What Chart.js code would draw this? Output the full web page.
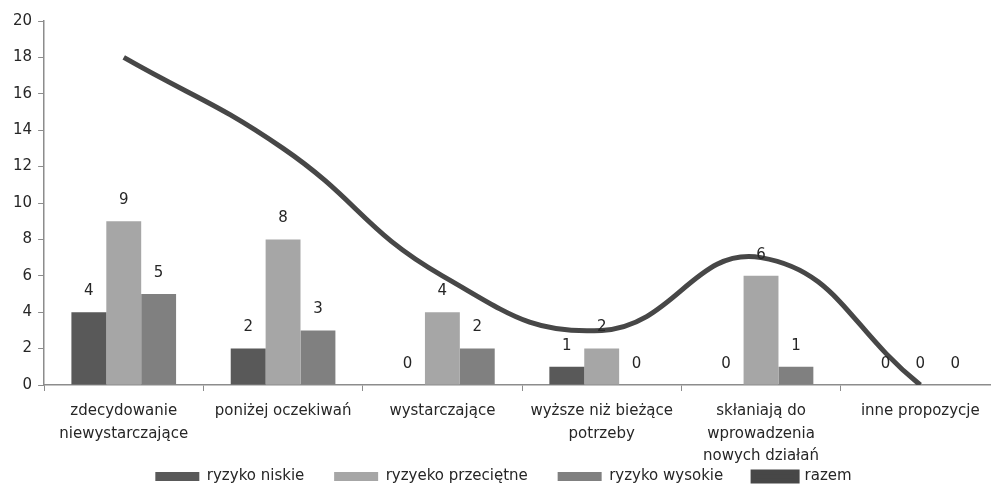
<!DOCTYPE html>
<html>
<head>
<meta charset="utf-8">
<script src="https://cdn.jsdelivr.net/npm/chart.js@4"></script>
<style>
  html, body { margin: 0; padding: 0; background: #fff; overflow: hidden; }
  #wrap { width: 1010px; height: 485px; }
</style>
</head>
<body>
<div id="wrap"><canvas id="riskChart"></canvas></div>
<script>
const categories = [
    ['zdecydowanie', 'niewystarczające'],
    'poniżej oczekiwań',
    'wystarczające',
    ['wyższe niż bieżące', 'potrzeby'],
    ['skłaniają do', 'wprowadzenia', 'nowych działań'],
    'inne propozycje'
];
const ryzykoNiskie = [4, 2, 0, 1, 0, 0];
const ryzykoPrzecietne = [9, 8, 4, 2, 6, 0];
const ryzykoWysokie = [5, 3, 2, 0, 1, 0];
const razem = [18, 13, 6, 3, 7, 0];
const yTicks = [0, 2, 4, 6, 8, 10, 12, 14, 16, 18, 20];

const FONT = 'DejaVu Sans';

// etykiety nad słupkami
const barLabels = {
    id: 'barLabels',
    afterDatasetsDraw(chart) {
        const ctx = chart.ctx;
        ctx.save();
        ctx.font = '15px ' + FONT;
        ctx.fillStyle = '#262626';
        ctx.textAlign = 'center';
        ctx.textBaseline = 'middle';
        chart.data.datasets.forEach((ds, i) => {
            if (ds.type === 'line') return;
            chart.getDatasetMeta(i).data.forEach((bar, j) => {
                ctx.fillText(ds.data[j], bar.x, bar.y - 21);
            });
        });
        ctx.restore();
    }
};

const ctx = document.getElementById('riskChart').getContext('2d');

new Chart(ctx, {
    data: {
        labels: categories,
        datasets: [
            {
                type: 'line',
                label: 'razem',
                data: razem,
                borderColor: '#474747',
                backgroundColor: '#474747',
                borderWidth: 5,
                pointRadius: 0,
                tension: 0.45,
                order: 0
            },
            {
                type: 'bar',
                label: 'ryzyko niskie',
                data: ryzykoNiskie,
                backgroundColor: '#595959',
                order: 1
            },
            {
                type: 'bar',
                label: 'ryzyeko przeciętne',
                data: ryzykoPrzecietne,
                backgroundColor: '#a6a6a6',
                order: 1
            },
            {
                type: 'bar',
                label: 'ryzyko wysokie',
                data: ryzykoWysokie,
                backgroundColor: '#808080',
                order: 1
            }
        ]
    },
    options: {
        responsive: true,
        maintainAspectRatio: false,
        animation: false,
        layout: { padding: { left: 7, right: 10, top: 21, bottom: -9 } },
        datasets: {
            bar: { categoryPercentage: 0.657, barPercentage: 1 }
        },
        plugins: {
            legend: {
                position: 'bottom',
                labels: {
                    boxWidth: 44,
                    boxHeight: 9,
                    padding: 6,
                    color: '#262626',
                    font: { family: FONT, size: 15 },
                    generateLabels(chart) {
                        const items = Chart.defaults.plugins.legend.labels.generateLabels(chart);
                        const bars = items.filter(it => it.datasetIndex !== 0);
                        const line = items.filter(it => it.datasetIndex === 0);
                        bars.forEach(it => { it.text = it.text + '     '; });
                        return bars.concat(line);
                    }
                }
            },
            tooltip: { enabled: false }
        },
        scales: {
            x: {
                offset: true,
                afterFit: scale => { scale.height = 78; },
                grid: {
                    offset: true,
                    drawOnChartArea: false,
                    drawTicks: true,
                    tickLength: 6,
                    color: '#8c8c8c'
                },
                border: { color: '#8c8c8c', width: 1.5 },
                ticks: {
                    color: '#262626',
                    font: { family: FONT, size: 15, lineHeight: 1.5 },
                    maxRotation: 0,
                    autoSkip: false,
                    padding: 9
                }
            },
            y: {
                min: 0,
                max: 20,
                afterBuildTicks: axis => { axis.ticks = yTicks.map(v => ({ value: v })); },
                grid: {
                    drawOnChartArea: false,
                    drawTicks: true,
                    tickLength: 6,
                    color: '#8c8c8c'
                },
                border: { color: '#8c8c8c', width: 1.5 },
                ticks: {
                    color: '#262626',
                    font: { family: FONT, size: 15 },
                    padding: 6
                }
            }
        }
    },
    plugins: [barLabels]
});
</script>
</body>
</html>
